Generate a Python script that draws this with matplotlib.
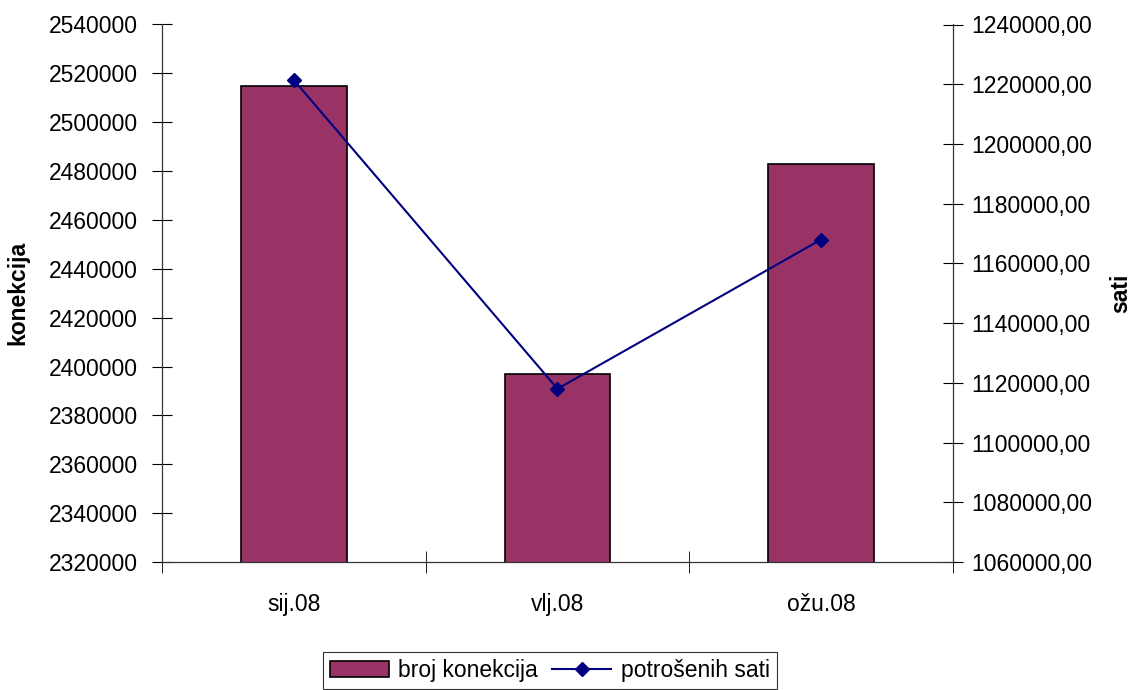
import matplotlib
matplotlib.use("Agg")
import matplotlib.pyplot as plt
from matplotlib.ticker import FuncFormatter

months = ["sij.08", "vlj.08", "ožu.08"]
konekcije = [2515000, 2397000, 2483000]
sati = [1221400, 1118000, 1168000]

plt.rcParams['font.family'] = ['Liberation Sans', 'DejaVu Sans']
plt.rcParams['font.size'] = 16.5

fig = plt.figure(figsize=(11.38, 6.9), dpi=100)
ax = fig.add_axes([162/1138, 1 - 562/690, (953-162)/1138, (562-24.5)/690])
x = list(range(len(months)))
bars = ax.bar(x, konekcije, width=0.4, color="#993366", edgecolor="black",
              linewidth=1.2, label="broj konekcija", zorder=2)
ax.set_xlim(-0.5, 2.5)
ax.set_ylim(2320000, 2540000)
ax.set_yticks(range(2320000, 2540001, 20000))
ax.yaxis.set_major_formatter(FuncFormatter(lambda v, p: "%d" % v))
ax.set_xticks(x)
ax.set_xticklabels(months)
ax.set_xticks([-0.5, 0.5, 1.5, 2.5], minor=True)
ax.tick_params(axis='x', which='major', length=0, pad=22)
ax.tick_params(axis='x', which='minor', length=16, direction='inout')
ax.tick_params(axis='y', length=15, direction='inout', pad=10)
ax.spines['top'].set_visible(False)
ax.set_ylabel("konekcija", fontweight='bold', fontsize=16.5, labelpad=14)

ax2 = ax.twinx()
line, = ax2.plot(x, sati, color="#000080", marker="D", markersize=7,
                 linewidth=1.5, label="potrošenih sati", zorder=3)
ax2.set_ylim(1060000, 1240000)
ax2.set_yticks(range(1060000, 1240001, 20000))
ax2.yaxis.set_major_formatter(FuncFormatter(lambda v, p: "%d,00" % v))
ax2.tick_params(axis='y', length=15, direction='inout', pad=6)
ax2.spines['top'].set_visible(False)
ax2.set_ylabel("sati", fontweight='bold', fontsize=16.5, rotation=90, labelpad=12)

for a in (ax, ax2):
    for s in a.spines.values():
        s.set_linewidth(0.8)
        s.set_color("#333333")

leg = fig.legend([bars, line], ["broj konekcija", "potrošenih sati"],
                 loc='lower center', bbox_to_anchor=(0.483, -0.012), ncol=2,
                 frameon=True, fancybox=False, edgecolor="black",
                 handlelength=2.6, handletextpad=0.4, columnspacing=0.6,
                 borderpad=0.3, borderaxespad=0.4)
leg.get_frame().set_linewidth(0.8)

fig.savefig("out.png", dpi=100)
